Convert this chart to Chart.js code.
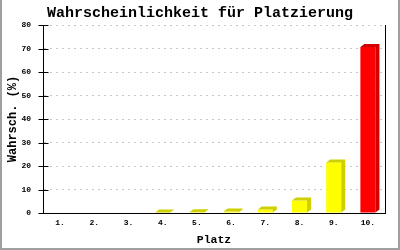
<!DOCTYPE html>
<html>
<head>
<meta charset="utf-8">
<script src="https://cdn.jsdelivr.net/npm/chart.js@4/dist/chart.umd.min.js"></script>
<style>
    html, body { margin: 0; padding: 0; background: #fff; }
    #wrap { width: 400px; height: 250px; }
</style>
</head>
<body>
<div id="wrap"><canvas id="placeChart" width="400" height="250"></canvas></div>
<script>
// Platz labels and probabilities (%)
const places = ["1.", "2.", "3.", "4.", "5.", "6.", "7.", "8.", "9.", "10."];
const chances = [0, 0, 0, 0.2, 0.3, 0.6, 1.5, 5.3, 21.5, 70.6];
const yTicks = [0, 10, 20, 30, 40, 50, 60, 70, 80];

const colors = {
    front: "#ffff00",
    side: "#d0d000",
    topFront: "#ff0000",
    topSide: "#d00000",
    grid: "#c8c8c8",
    frame: "#a0a0a0",
};

const monoFont = "'Liberation Mono', 'DejaVu Sans Mono', monospace";
const maxChance = Math.max(...chances);

// draws the darker top and side faces of each bar
const bar3d = {
    id: "bar3d",
    afterDatasetsDraw(chart) {
        const ctx = chart.ctx;
        const dx = 4, dy = 3;
        chart.getDatasetMeta(0).data.forEach((bar, i) => {
            if (!chances[i]) return;
            const p = bar.getProps(["x", "y", "base", "width"], true);
            const left = p.x - p.width / 2;
            const right = p.x + p.width / 2;
            ctx.save();
            ctx.fillStyle = chances[i] === maxChance ? colors.topSide : colors.side;
            ctx.beginPath();
            ctx.moveTo(left, p.y);
            ctx.lineTo(left + dx, p.y - dy);
            ctx.lineTo(right + dx, p.y - dy);
            ctx.lineTo(right + dx, p.base - dy);
            ctx.lineTo(right, p.base);
            ctx.lineTo(right, p.y);
            ctx.closePath();
            ctx.fill();
            ctx.restore();
        });
    },
};

// tick marks crossing the left axis
const crossTicks = {
    id: "crossTicks",
    afterDraw(chart) {
        const ctx = chart.ctx;
        const yScale = chart.scales.y;
        const x0 = Math.round(chart.chartArea.left) + 0.5;
        ctx.save();
        ctx.strokeStyle = "#000";
        ctx.lineWidth = 1;
        ctx.beginPath();
        yTicks.forEach((v) => {
            const y = Math.round(yScale.getPixelForValue(v)) + 0.5;
            ctx.moveTo(x0 - 5, y);
            ctx.lineTo(v === 0 ? x0 : x0 + 5, y);
        });
        ctx.stroke();
        ctx.restore();
    },
};

// grey frame on left, right and bottom edges
const frame = {
    id: "frame",
    beforeDraw(chart) {
        const ctx = chart.ctx;
        ctx.save();
        ctx.fillStyle = "#ffffff";
        ctx.fillRect(0, 0, chart.width, chart.height);
        ctx.fillStyle = colors.frame;
        ctx.fillRect(0, 0, 2, chart.height);
        ctx.fillRect(chart.width - 2, 0, 2, chart.height);
        ctx.fillRect(0, chart.height - 2, chart.width, 2);
        ctx.restore();
    },
};

new Chart(document.getElementById("placeChart"), {
    type: "bar",
    data: {
        labels: places,
        datasets: [
            {
                data: chances,
                backgroundColor: chances.map((v) => (v === maxChance ? colors.topFront : colors.front)),
                borderWidth: 0,
                categoryPercentage: 1,
                barPercentage: 0.44,
            },
        ],
    },
    options: {
        responsive: false,
        animation: false,
        layout: { padding: 0 },
        plugins: {
            legend: { display: false },
            tooltip: { enabled: false },
            title: {
                display: true,
                text: "Wahrscheinlichkeit für Platzierung",
                color: "#000",
                font: { family: monoFont, size: 15, weight: "bold" },
                padding: { top: 4, bottom: 3 },
            },
        },
        scales: {
            x: {
                grid: { display: false, drawTicks: false },
                border: { display: true, color: "#000", width: 1 },
                ticks: {
                    color: "#000",
                    padding: 5,
                    font: { family: monoFont, size: 8, weight: "bold" },
                },
                title: {
                    display: true,
                    text: "Platz",
                    color: "#000",
                    font: { family: monoFont, size: 11.5, weight: "bold" },
                    padding: { top: 0, bottom: 3 },
                },
                afterFit(scale) {
                    scale.height = 37;
                },
            },
            y: {
                min: 0,
                max: 80,
                afterBuildTicks(scale) {
                    scale.ticks = yTicks.map((v) => ({ value: v }));
                },
                grid: {
                    color: (c) => (c.tick && c.tick.value === 0 ? "rgba(0,0,0,0)" : colors.grid),
                    drawTicks: false,
                },
                border: { display: true, color: "#000", width: 1, dash: [2, 4] },
                ticks: {
                    color: "#000",
                    padding: 12,
                    font: { family: monoFont, size: 8, weight: "bold" },
                },
                title: {
                    display: true,
                    text: "Wahrsch. (%)",
                    color: "#000",
                    font: { family: monoFont, size: 12, weight: "bold" },
                    padding: { top: 6, bottom: 0 },
                },
                afterFit(scale) {
                    scale.width = 43;
                },
            },
            right: {
                position: "right",
                display: true,
                grid: { display: false },
                border: { display: true, color: "#000", width: 1 },
                ticks: { display: false },
                afterFit(scale) {
                    scale.width = 15;
                },
            },
        },
    },
    plugins: [frame, bar3d, crossTicks],
});
</script>
</body>
</html>
